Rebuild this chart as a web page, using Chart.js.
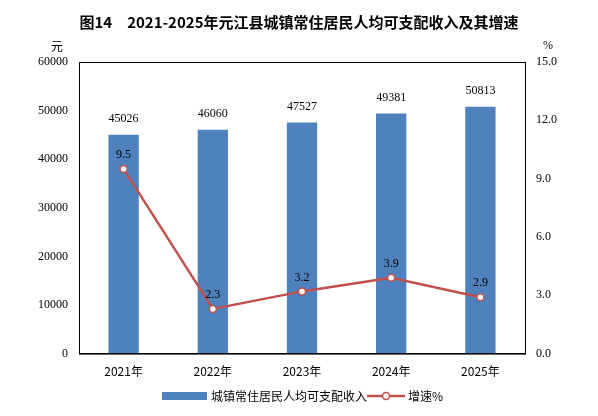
<!DOCTYPE html>
<html><head><meta charset="utf-8">
<script src="https://cdn.jsdelivr.net/npm/chart.js@4"></script>
<style>html,body{margin:0;background:#fff}#w{width:598px;height:416px;position:relative}</style>
</head><body><div id="w"><canvas id="c"></canvas></div>
<script>
const categories=["2021年","2022年","2023年","2024年","2025年"];
const income=[45026,46060,47527,49381,50813];
const growth=[9.5,2.3,3.2,3.9,2.9];
const title="图14　2021-2025年元江县城镇常住居民人均可支配收入及其增速";
const num="'Liberation Serif','DejaVu Serif',serif";
const cjk="'Noto Sans CJK SC',sans-serif";
const deco={id:'deco',afterDatasetsDraw(ch){
 const c=ch.ctx,a=ch.chartArea;
 c.save();c.strokeStyle='#000';c.lineWidth=1;c.strokeRect(a.left+0.5,a.top+0.5,a.right-a.left,a.bottom-a.top);
 c.fillStyle='#000';c.font='12px '+num;c.textAlign='center';c.textBaseline='bottom';
 ch.getDatasetMeta(0).data.forEach((b,i)=>c.fillText(income[i],b.x,b.y-10));
 ch.getDatasetMeta(1).data.forEach((p,i)=>c.fillText(growth[i].toFixed(1),p.x,p.y-8));
 c.font='bold 15px '+cjk;c.fillText(title,299,30);
 c.font='12px '+cjk;c.fillText('元',57,52);c.font='12px '+num;c.fillText('%',548,52);
 // legend
 const ly=396;c.fillStyle='#4f81bd';c.fillRect(162,ly-4,45,8);
 c.fillStyle='#000';c.font='12px '+cjk;c.textAlign='left';c.textBaseline='middle';
 c.fillText(ch.data.datasets[0].label,211,ly);
 c.strokeStyle='#c0504d';c.lineWidth=2.5;c.beginPath();c.moveTo(367,ly);c.lineTo(405,ly);c.stroke();
 c.fillStyle='#fff';c.lineWidth=1.5;c.beginPath();c.arc(386,ly,3.5,0,7);c.fill();c.stroke();
 c.fillStyle='#000';c.fillText(ch.data.datasets[1].label,408,ly);
 c.restore();}};
new Chart(document.getElementById('c'),{
 data:{labels:categories,datasets:[
  {type:'bar',label:'城镇常住居民人均可支配收入',data:income,backgroundColor:'#4f81bd',yAxisID:'y',barPercentage:0.34,categoryPercentage:1,order:2},
  {type:'line',label:'增速%',data:growth,borderColor:'#c0504d',backgroundColor:'#fff',borderWidth:2.5,pointRadius:3.5,pointBorderWidth:1.5,pointBackgroundColor:'#fff',pointBorderColor:'#c0504d',yAxisID:'y1',order:1}]},
 options:{responsive:true,maintainAspectRatio:false,animation:false,
  layout:{padding:{top:62,left:35,right:38,bottom:34}},
  plugins:{legend:{display:false},tooltip:{enabled:false}},
  scales:{x:{grid:{display:false},border:{color:'#000'},ticks:{color:'#000',font:{family:cjk,size:12}}},
   y:{min:0,max:60000,ticks:{stepSize:10000,color:'#000',font:{family:num,size:12},callback:v=>String(v)},grid:{display:false},border:{color:'#000'}},
   y1:{position:'right',min:0,max:15,ticks:{stepSize:3,color:'#000',font:{family:num,size:12},callback:v=>v.toFixed(1)},grid:{display:false},border:{color:'#000'}}}},
 plugins:[deco]});
</script></body></html>
